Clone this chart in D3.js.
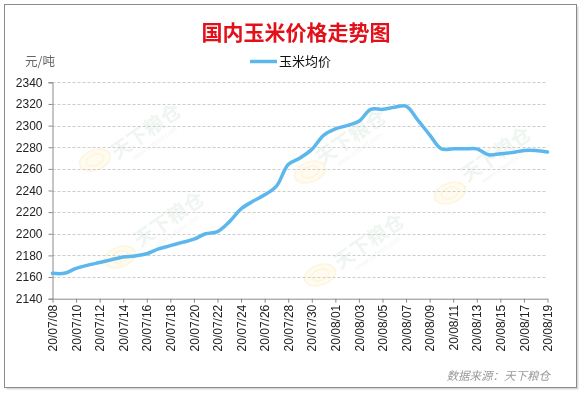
<!DOCTYPE html>
<html lang="zh">
<head>
<meta charset="UTF-8">
<title>国内玉米价格走势图</title>
<script src="https://d3js.org/d3.v7.min.js"></script>
<style>
  body { margin: 0; background: #fff; }
  svg { display: block; font-family: "Liberation Sans", Arial, sans-serif; }
</style>
</head>
<body>
<svg id="chart"></svg>
<script>
// data
const dates = [
  "20/07/08", "20/07/09", "20/07/10", "20/07/11", "20/07/12", "20/07/13", "20/07/14",
  "20/07/15", "20/07/16", "20/07/17", "20/07/18", "20/07/19", "20/07/20", "20/07/21",
  "20/07/22", "20/07/23", "20/07/24", "20/07/25", "20/07/26", "20/07/27", "20/07/28",
  "20/07/29", "20/07/30", "20/07/31", "20/08/01", "20/08/02", "20/08/03", "20/08/04",
  "20/08/05", "20/08/06", "20/08/07", "20/08/08", "20/08/09", "20/08/10", "20/08/11",
  "20/08/12", "20/08/13", "20/08/14", "20/08/15", "20/08/16", "20/08/17", "20/08/18",
  "20/08/19"
];
const prices = [
  2163.5, 2163.5, 2168, 2171, 2173.5, 2176, 2178.5,
  2179.5, 2181.5, 2186, 2189, 2192, 2195, 2200,
  2202, 2211, 2223, 2230, 2236, 2244, 2264,
  2270, 2278, 2291, 2297, 2300, 2304, 2315,
  2315, 2317, 2318, 2305, 2291.5, 2278.5, 2278.5,
  2278.5, 2278.5, 2273, 2274, 2275, 2277, 2277,
  2275.5
];
const yTicks = [2140, 2160, 2180, 2200, 2220, 2240, 2260, 2280, 2300, 2320, 2340];
const seriesName = "玉米均价";
const title = "国内玉米价格走势图";
const unit = "元/吨";
const source = "数据来源：天下粮仓";

const W = 587, H = 398;
const plotL = 52.5, plotR = 547.5, plotT = 82.3, plotB = 298.7;

const svg = d3.select("#chart").attr("width", W).attr("height", H);

// frame with soft shadow
svg.append("rect").attr("x", 6.5).attr("y", 6.5).attr("width", 572).attr("height", 383)
  .attr("fill", "#d9d9d9");
svg.append("rect").attr("x", 4.5).attr("y", 4.5).attr("width", 572).attr("height", 383)
  .attr("fill", "#fff").attr("stroke", "#8a8a8a");

const x = d3.scalePoint().domain(dates).range([plotL, plotR]);
const y = d3.scaleLinear().domain([2140, 2340]).range([plotB, plotT]);

// faint watermarks
const marks = [[95, 160, 150, 137], [120, 257, 173, 225], [310, 172, 355, 143],
               [450, 193, 500, 160], [320, 275, 373, 247]];
const wm = svg.append("g").attr("opacity", 0.3);
marks.forEach(([lx, ly, tx, ty]) => {
  const lg = wm.append("g").attr("transform", `translate(${lx},${ly}) rotate(-20)`);
  lg.append("ellipse").attr("rx", 16).attr("ry", 10).attr("fill", "#fdf0c6")
    .attr("stroke", "#f6dc93").attr("stroke-width", 1.5);
  lg.append("ellipse").attr("rx", 9).attr("ry", 5.5).attr("fill", "none")
    .attr("stroke", "#f4d98c").attr("stroke-width", 1.2);
  const tg = wm.append("g").attr("transform", `translate(${tx},${ty}) rotate(-35)`);
  tg.append("text").attr("text-anchor", "middle")
    .attr("font-family", "'Noto Sans CJK SC', sans-serif").attr("font-weight", "bold")
    .attr("font-size", 20).attr("fill", "#c9dccf").text("天下粮仓");
  tg.append("text").attr("text-anchor", "middle").attr("y", 10)
    .attr("font-size", 7).attr("fill", "#cfdcd3").text("www.cofeed.com");
});

// gridlines
svg.append("g").selectAll("line").data(yTicks.filter(d => d > 2140)).join("line")
  .attr("x1", plotL).attr("x2", plotR)
  .attr("y1", d => Math.round(y(d)) + 0.5).attr("y2", d => Math.round(y(d)) + 0.5)
  .attr("stroke", "#cccccc").attr("stroke-dasharray", "3,2");

// y axis
const yAxis = svg.append("g").attr("transform", `translate(${plotL},0)`)
  .call(d3.axisLeft(y).tickValues(yTicks).tickSize(4).tickPadding(6).tickFormat(d3.format("d")));
yAxis.select(".domain").attr("stroke", "#8a8a8a");
yAxis.selectAll(".tick line").attr("stroke", "#8a8a8a");
yAxis.selectAll("text").attr("font-size", 12).attr("fill", "#222")
  .attr("font-family", "'Liberation Sans', Arial, sans-serif");

// x axis
const xAxis = svg.append("g").attr("transform", `translate(0,${plotB})`)
  .call(d3.axisBottom(x).tickValues(dates.filter((d, i) => i % 2 === 0)).tickSize(4).tickSizeOuter(0));
xAxis.select(".domain").attr("stroke", "#8a8a8a");
xAxis.selectAll(".tick line").attr("stroke", "#8a8a8a");
xAxis.selectAll("text")
  .attr("font-size", 12).attr("fill", "#222")
  .attr("font-family", "'Liberation Sans', Arial, sans-serif")
  .attr("text-anchor", "end")
  .attr("transform", "rotate(-90)")
  .attr("x", -6).attr("y", 0).attr("dy", "0.35em");

// series
svg.append("path").datum(prices)
  .attr("fill", "none").attr("stroke", "#5cb8ec").attr("stroke-width", 3.5)
  .attr("stroke-linejoin", "round").attr("stroke-linecap", "round")
  .attr("d", d3.line().x((d, i) => x(dates[i])).y(d => y(d)).curve(d3.curveCatmullRom.alpha(0.5)));

// title
svg.append("text").attr("x", 296).attr("y", 40).attr("text-anchor", "middle")
  .attr("font-family", "'Noto Sans CJK SC', sans-serif").attr("font-weight", "bold")
  .attr("font-size", 21).attr("fill", "#e3101a").text(title);

// unit
svg.append("text").attr("x", 25).attr("y", 66)
  .attr("font-family", "'Noto Sans CJK SC', sans-serif")
  .attr("font-size", 12.5).attr("fill", "#666").text(unit);

// legend
svg.append("line").attr("x1", 250).attr("x2", 277).attr("y1", 61.5).attr("y2", 61.5)
  .attr("stroke", "#5cb8ec").attr("stroke-width", 3.5);
svg.append("text").attr("x", 279).attr("y", 66)
  .attr("font-family", "'Noto Sans CJK SC', sans-serif")
  .attr("font-size", 13).attr("fill", "#111").text(seriesName);

// source note
svg.append("text").attr("x", 550).attr("y", 380).attr("text-anchor", "end")
  .attr("font-family", "'Noto Sans CJK SC', sans-serif").attr("font-style", "italic")
  .attr("font-size", 11.5).attr("fill", "#9a9a9a")
  .attr("stroke", "#fff").attr("stroke-width", 2).attr("paint-order", "stroke")
  .text(source);
</script>
</body>
</html>
